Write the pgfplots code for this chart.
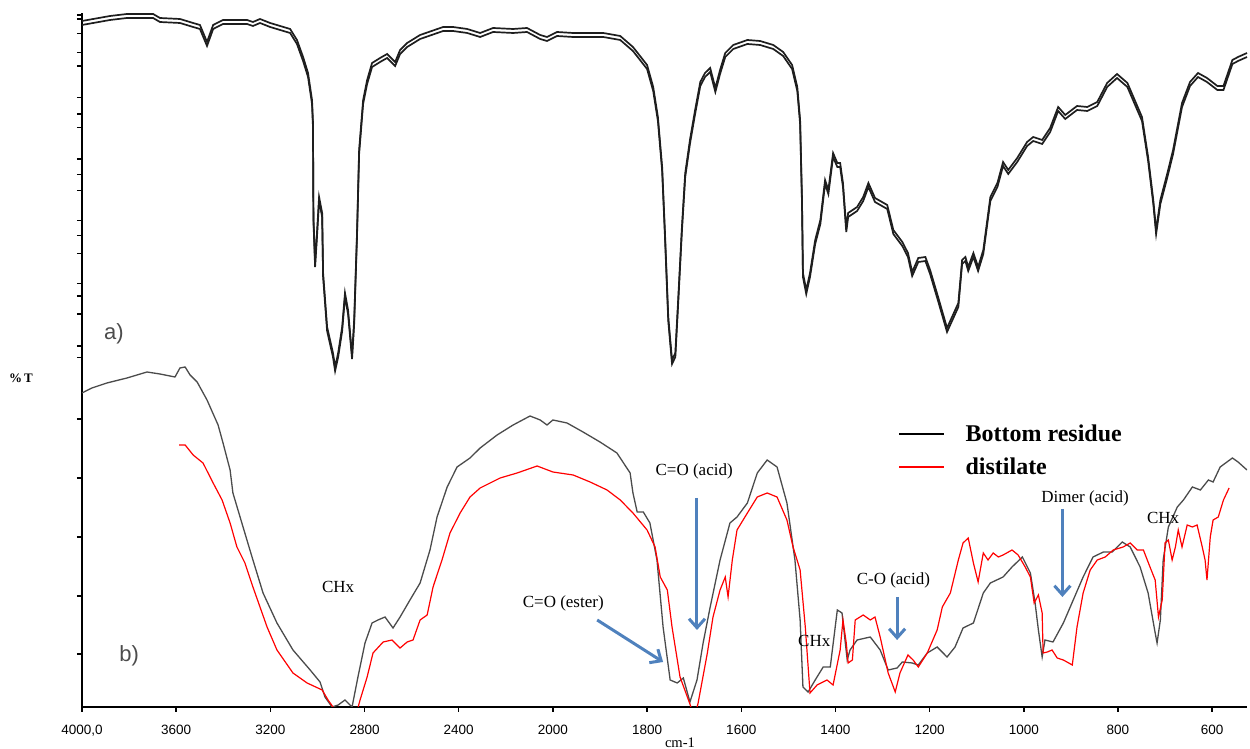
\documentclass[border=0pt]{standalone}
\usepackage{pgfplots}
\pgfplotsset{compat=1.18}
\usepackage{pgfplotstable}
\usepackage{fontspec}
\setmainfont{Liberation Serif}
\newfontfamily\ticksf{Liberation Sans}
\usetikzlibrary{arrows.meta}
\definecolor{arrowblue}{RGB}{79,129,189}
\definecolor{resgray}{RGB}{75,75,75}
\definecolor{topline}{RGB}{30,30,30}

\pgfplotsset{
  wavetrafo/.style={
    x coord trafo/.code={\pgfmathparse{ifthenelse(##1>2000,(4000-##1)/2,3000-##1)}},
    x coord inv trafo/.code={\pgfmathparse{ifthenelse(##1<1000,4000-2*##1,3000-##1)}},
  }
}

\pgfplotstableread{
w T
4000 351
3881 356
3809 358
3698 358
3669 354
3584 353
3528 349
3499 347
3469 330
3443 347
3401 352
3299 352
3274 350
3244 353
3201 349
3116 343
3087 332
3061 315
3040 299
3023 272
3019 249
3017 155
3010 109
3002 139
2993 175
2980 159
2976 99
2959 45
2934 19
2925 5
2912 19
2895 45
2883 79
2870 62
2853 17
2844 52
2832 139
2823 222
2806 272
2789 292
2768 309
2734 314
2704 318
2670 310
2649 322
2619 329
2564 337
2466 345
2424 345
2364 343
2309 339
2254 344
2169 343
2110 344
2054 337
2025 335
1991 340
1957 339
1893 339
1857 336
1830 325
1800 307
1787 285
1777 255
1768 205
1762 139
1755 55
1747 12
1740 19
1734 72
1726 145
1719 199
1709 232
1698 262
1687 290
1677 299
1666 304
1655 284
1645 302
1634 319
1617 327
1587 332
1560 331
1532 327
1511 320
1492 307
1481 285
1475 252
1471 172
1469 99
1462 82
1454 99
1443 132
1432 152
1422 192
1415 182
1405 219
1396 209
1390 209
1384 189
1377 144
1373 159
1354 165
1341 175
1330 189
1316 174
1290 167
1277 142
1258 130
1246 119
1237 100
1224 114
1209 115
1199 102
1182 75
1163 44
1139 69
1131 112
1124 115
1118 105
1107 119
1097 105
1086 122
1071 175
1056 189
1044 210
1033 202
1014 214
993 230
980 235
961 232
944 244
927 265
912 257
887 266
865 265
844 270
823 289
802 298
780 289
749 255
736 215
725 172
719 142
710 172
695 199
683 222
664 269
647 290
630 299
611 294
589 286
576 286
557 312
545 315
526 319
}\topdata

\pgfplotstableread{
w T
4000 314
3958 319
3894 324
3809 329
3724 335
3669 333
3605 330
3584 339
3562 340
3541 332
3511 325
3469 307
3422 282
3401 264
3371 237
3359 214
3316 180
3274 147
3231 114
3172 84
3104 57
3031 37
2989 25
2968 10
2938 0
2912 2
2883 7
2853 0
2828 30
2798 64
2768 84
2743 87
2713 90
2679 79
2649 90
2607 107
2564 124
2522 157
2492 190
2449 220
2407 240
2352 249
2309 259
2237 272
2169 282
2097 291
2054 287
2025 282
2000 287
1970 284
1936 275
1900 265
1864 254
1836 234
1830 214
1821 195
1808 195
1794 184
1779 147
1766 80
1751 27
1736 24
1723 29
1709 5
1694 27
1681 64
1666 100
1645 147
1624 184
1609 190
1587 204
1566 234
1545 247
1524 240
1503 204
1486 147
1475 87
1469 20
1458 15
1443 27
1426 40
1411 40
1396 97
1386 94
1375 47
1369 57
1354 67
1326 70
1305 57
1288 37
1269 39
1258 45
1237 44
1224 42
1205 54
1184 60
1163 50
1146 60
1129 79
1107 84
1086 114
1071 124
1044 130
1025 140
1003 150
986 134
976 104
969 77
961 50
955 67
938 65
916 84
895 107
874 130
853 150
831 155
812 155
791 165
774 160
753 140
736 114
721 74
717 64
710 87
704 147
693 180
674 200
661 207
642 220
625 217
608 227
598 225
583 240
557 249
545 245
526 237
}\residue

\pgfplotstableread{
w T
3588 262
3562 262
3528 252
3486 244
3443 224
3405 207
3371 184
3342 160
3308 144
3274 120
3214 80
3172 57
3104 34
3044 24
2980 17
2955 7
2934 0
2900 -20
2850 -20
2819 7
2789 30
2764 54
2721 65
2683 67
2649 59
2619 65
2594 67
2564 87
2534 92
2509 120
2471 147
2437 174
2394 194
2352 210
2309 219
2224 229
2152 234
2067 241
2000 235
1957 232
1921 225
1885 217
1857 207
1830 194
1800 177
1783 160
1772 130
1757 117
1747 80
1730 30
1709 3
1700 -10
1692 3
1672 54
1660 90
1645 117
1634 130
1628 110
1619 147
1609 177
1587 194
1566 210
1545 214
1524 210
1503 187
1490 160
1475 137
1464 80
1454 14
1439 22
1418 27
1405 22
1390 57
1384 87
1377 64
1373 44
1364 47
1358 87
1341 92
1326 87
1316 90
1305 70
1288 34
1273 15
1263 34
1246 52
1235 47
1224 40
1205 54
1184 77
1173 100
1156 114
1139 147
1129 164
1118 169
1107 144
1097 125
1086 154
1076 147
1065 154
1054 150
1044 152
1025 157
1012 152
997 140
986 130
978 104
969 112
961 94
959 54
950 55
940 57
929 49
916 47
897 42
887 80
874 114
859 137
844 147
827 150
810 157
789 160
774 164
759 157
746 157
732 140
721 127
714 90
706 107
700 164
693 167
685 147
678 160
672 177
664 160
653 182
642 180
632 182
621 160
615 147
611 127
604 170
598 187
587 190
576 207
564 219
}\distilate

\begin{document}
\begin{tikzpicture}
\begin{axis}[name=top, wavetrafo,
  at={(41pt,188.5pt)}, anchor=south west,
  scale only axis, width=582.5pt, height=179.5pt,
  xmin=4000, xmax=526, ymin=0, ymax=359,
  axis x line=none, axis y line*=left,
  xtick=\empty,
  ytick={357,353,338.7,319.3,306,274.3,258,244.3,213,197.7,181.3,151.3,136.7,118.7,88.7,76,58,26,14.7},
  yticklabels={},
  tick align=outside, major tick length=2.5pt,
  y axis line style={line width=0.75pt, black},
  every tick/.style={line width=0.75pt, black},
  clip=false]
\addplot[topline, line width=0.85pt, forget plot] table[x=w,y=T]{\topdata};
\addplot[topline, line width=0.85pt, yshift=-2pt, forget plot] table[x=w,y=T]{\topdata};
\node[font=\ticksf\fontsize{11}{13}\selectfont, text=black!70] at (axis cs:3864,38) {a)};
\end{axis}

\begin{axis}[name=bot, wavetrafo,
  at={(41pt,21pt)}, anchor=south west,
  scale only axis, width=582.5pt, height=171pt,
  xmin=4000, xmax=526, ymin=0, ymax=342,
  axis x line*=bottom, axis y line*=left,
  xtick={4000,3600,3200,2800,2400,2000,1800,1600,1400,1200,1000,800,600},
  xticklabels={{4000,0},3600,3200,2800,2400,2000,1800,1600,1400,1200,1000,800,600},
  xticklabel style={font=\ticksf\fontsize{6.75}{8}\selectfont, yshift=-3pt},
  ytick={288,229,170,111,53},
  yticklabels={},
  tick align=outside, major tick length=2.5pt,
  axis line style={line width=0.75pt, black},
  every tick/.style={line width=0.75pt, black},
  xlabel={cm-1},
  xlabel style={font=\fontsize{7.3}{8}\selectfont, at={(axis description cs:0.5133,0)}, anchor=north, inner sep=0pt, yshift=-15pt},
  legend style={draw=none, fill=none, at={(axis description cs:0.7004,0.825)}, anchor=north west,
    font=\bfseries\fontsize{12}{14}\selectfont, inner sep=0pt, row sep=5.5pt,
    nodes={inner sep=0pt, text height=8pt, text depth=3pt},
    /tikz/every odd column/.append style={column sep=10pt}},
  legend cell align=left,
  legend image code/.code={\draw[#1] (0pt,1.3pt) -- (22.5pt,1.3pt);},
  ]
\addplot[resgray, line width=0.65pt, forget plot] table[x=w,y=T]{\residue};
\addplot[red, line width=0.6pt, forget plot] table[x=w,y=T]{\distilate};
\addlegendimage{black, line width=1.1pt}
\addlegendentry{Bottom residue}
\addlegendimage{red, line width=0.9pt}
\addlegendentry{distilate}
\node[font=\ticksf\fontsize{11}{13}\selectfont, text=black!70] at (axis cs:3800,51) {b)};
\node[font=\fontsize{8.5}{10}\selectfont] at (axis cs:2912,120) {CHx};
\node[font=\fontsize{8.5}{10}\selectfont] at (axis cs:1978,104) {C=O (ester)};
\node[font=\fontsize{8.5}{10}\selectfont] at (axis cs:1700,236) {C=O (acid)};
\node[font=\fontsize{8.5}{10}\selectfont] at (axis cs:1445,66) {CHx};
\node[font=\fontsize{8.5}{10}\selectfont] at (axis cs:1277,127) {C-O (acid)};
\node[font=\fontsize{8.5}{10}\selectfont] at (axis cs:870,209) {Dimer (acid)};
\node[font=\fontsize{8.5}{10}\selectfont] at (axis cs:704,189) {CHx};
\draw[arrowblue, line width=1.5pt, -{Straight Barb[length=4.5pt,width=8pt]}] (axis cs:1906,87) -- (axis cs:1766,45);
\draw[arrowblue, line width=1.5pt, -{Straight Barb[length=4.5pt,width=8pt]}] (axis cs:1694,209) -- (axis cs:1694,77);
\draw[arrowblue, line width=1.5pt, -{Straight Barb[length=4.5pt,width=8pt]}] (axis cs:1269,110) -- (axis cs:1269,67);
\draw[arrowblue, line width=1.5pt, -{Straight Barb[length=4.5pt,width=8pt]}] (axis cs:918,198) -- (axis cs:918,110);
\end{axis}
\node[font=\bfseries\fontsize{6.5}{8}\selectfont] at (10.5pt,185.5pt) {\%\,T};
\pgfresetboundingbox
\useasboundingbox (0pt,0pt) rectangle (625pt,374.5pt);
\end{tikzpicture}
\end{document}
